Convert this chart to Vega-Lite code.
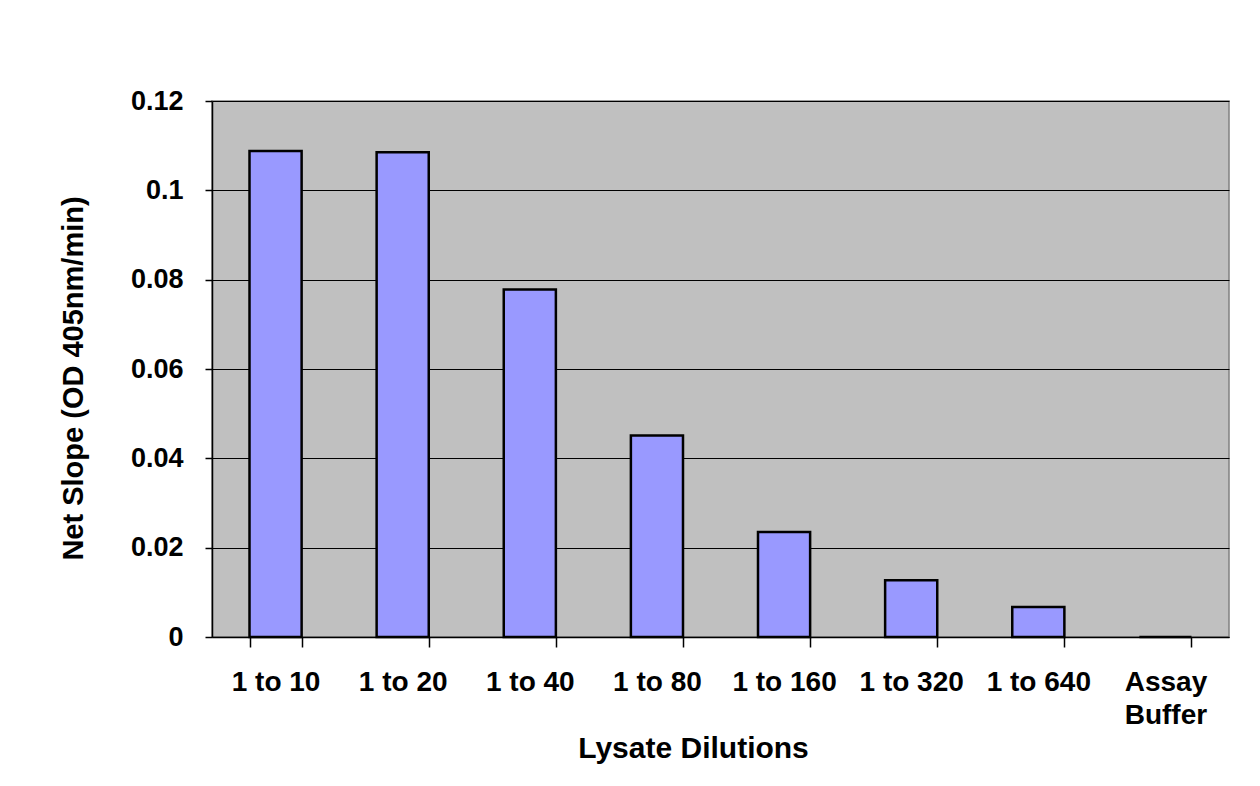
{
  "$schema": "https://vega.github.io/schema/vega-lite/v6.json",
  "autosize": "none",
  "width": 1017,
  "height": 536,
  "padding": {"left": 212, "top": 101, "right": 31, "bottom": 149},
  "background": "white",
  "data": {"values": [
    {"dilution": "1 to 10", "slope": 0.1088},
    {"dilution": "1 to 20", "slope": 0.1085},
    {"dilution": "1 to 40", "slope": 0.0778},
    {"dilution": "1 to 80", "slope": 0.0451},
    {"dilution": "1 to 160", "slope": 0.0235},
    {"dilution": "1 to 320", "slope": 0.0127},
    {"dilution": "1 to 640", "slope": 0.0067},
    {"dilution": "Assay Buffer", "slope": 0}
  ]},
  "mark": {"type": "bar", "fill": "#9999FF", "stroke": "black", "strokeWidth": 2.5},
  "encoding": {
    "x": {
      "field": "dilution", "type": "nominal", "sort": null,
      "scale": {"paddingInner": 0.59, "paddingOuter": 0.295},
      "axis": {
        "title": "Lysate Dilutions",
        "titleFont": "Liberation Sans", "titleFontSize": 30, "titleFontWeight": "bold", "titleColor": "black",
        "titleX": 481, "titleY": 120, "titleBaseline": "alphabetic", "titleAlign": "center",
        "labelFont": "Liberation Sans", "labelFontSize": 28, "labelFontWeight": "bold", "labelColor": "black",
        "labelAngle": 0, "labelPadding": 35, "labelBaseline": "middle",
        "labelExpr": "datum.label == 'Assay Buffer' ? ['Assay', 'Buffer'] : datum.label",
        "labelLineHeight": 33,
        "tickBand": "extent", "tickSize": 10, "tickColor": "black", "tickWidth": 1.5,
        "domainColor": "black", "domainWidth": 1.5, "grid": false
      }
    },
    "y": {
      "field": "slope", "type": "quantitative",
      "scale": {"domain": [0, 0.12], "nice": false},
      "axis": {
        "title": "Net Slope (OD 405nm/min)",
        "titleFont": "Liberation Sans", "titleFontSize": 29, "titleFontWeight": "bold", "titleColor": "black",
        "titleX": -130, "titleY": 277, "titleBaseline": "alphabetic", "titleAlign": "center", "titleAngle": -90,
        "values": [0, 0.02, 0.04, 0.06, 0.08, 0.1, 0.12],
        "format": ".2~f",
        "labelFont": "Liberation Sans", "labelFontSize": 27, "labelFontWeight": "bold", "labelColor": "black",
        "labelPadding": 22,
        "tickSize": 7, "tickColor": "black", "tickWidth": 1.5,
        "domainColor": "black", "domainWidth": 1.5,
        "grid": true, "gridColor": "black", "gridWidth": 1.2, "gridOpacity": 1
      }
    }
  },
  "config": {
    "view": {"fill": "#C0C0C0", "stroke": "#808080", "strokeWidth": 1.5}
  }
}
